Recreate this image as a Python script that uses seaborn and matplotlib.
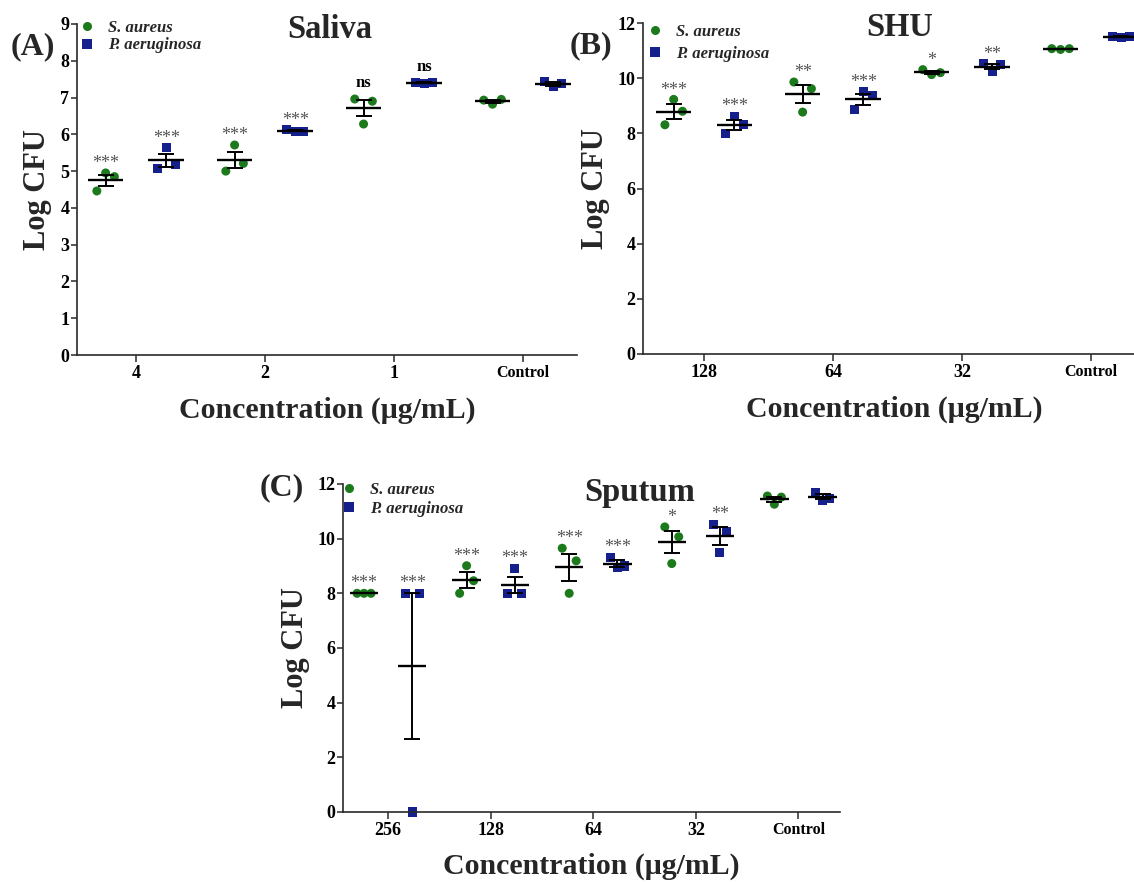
import numpy as np
import pandas as pd
import matplotlib
matplotlib.use("Agg")
import matplotlib.pyplot as plt
import seaborn as sns
from matplotlib.lines import Line2D

# ---------------- data ----------------
species = ["S. aureus", "P. aeruginosa"]

saliva_conc = ["4", "2", "1", "Control"]
saliva_sa = [[4.46, 4.95, 4.85], [5.00, 5.71, 5.21], [6.96, 6.28, 6.90], [6.93, 6.82, 6.95]]
saliva_pa = [[5.07, 5.64, 5.18], [6.12, 6.08, 6.08], [7.41, 7.38, 7.41], [7.45, 7.29, 7.38]]
saliva_sa_sig = ["***", "***", "ns", ""]
saliva_pa_sig = ["***", "***", "ns", ""]

shu_conc = ["128", "64", "32", "Control"]
shu_sa = [[8.31, 9.23, 8.80], [9.86, 8.77, 9.62], [10.31, 10.13, 10.20], [11.07, 11.04, 11.07]]
shu_pa = [[8.00, 8.62, 8.31], [8.85, 9.50, 9.38], [10.53, 10.23, 10.50], [11.52, 11.48, 11.50]]
shu_sa_sig = ["***", "**", "*", ""]
shu_pa_sig = ["***", "***", "**", ""]

sputum_conc = ["256", "128", "64", "32", "Control"]
sputum_sa = [[8.00, 8.00, 8.00], [8.00, 9.01, 8.46], [9.65, 8.00, 9.19], [10.43, 9.09, 10.07], [11.56, 11.26, 11.52]]
sputum_pa = [[8.00, 0.00, 8.00], [8.00, 8.92, 8.00], [9.32, 8.93, 9.00], [10.53, 9.49, 10.28], [11.70, 11.40, 11.48]]
sputum_sa_sig = ["***", "***", "***", "*", ""]
sputum_pa_sig = ["***", "***", "***", "**", ""]

# ---------------- style ----------------
sns.set_theme(style="ticks")
plt.rcParams["font.family"] = ["Liberation Serif", "DejaVu Serif"]
plt.rcParams["font.weight"] = "bold"
plt.rcParams["axes.labelweight"] = "bold"
plt.rcParams["mathtext.default"] = "regular"

GREEN = "#1c7a1c"
BLUE = "#15208c"
AXC = "#2a2a2a"
palette = {species[0]: GREEN, species[1]: BLUE}
markers = {species[0]: "o", species[1]: "s"}

W, H = 1134, 883
fig = plt.figure(figsize=(W / 100, H / 100), dpi=100)


def axes_px(left, top, right, bottom):
    return fig.add_axes([left / W, 1 - bottom / H, (right - left) / W, (bottom - top) / H])


def ftext(x, y, s, **kw):
    fig.text(x / W, 1 - y / H, s, **kw)


HUE_OFF = [-0.235, 0.235]
REP_OFF = [-0.068, 0.0, 0.068]


def draw_panel(ax, conc, sa, pa, sa_sig, pa_sig, ymax, ystep, xlim, leg_xy, leg_space, ylab_x):
    rows = []
    for j, (sp, vals, sigs) in enumerate([(species[0], sa, sa_sig), (species[1], pa, pa_sig)]):
        for i, grp in enumerate(vals):
            for k, v in enumerate(grp):
                rows.append(dict(conc=i, species=sp, rep=k, value=v,
                                 xc=i + HUE_OFF[j], x=i + HUE_OFF[j] + REP_OFF[k], sig=sigs[i]))
    df = pd.DataFrame(rows)

    sns.scatterplot(data=df, x="x", y="value", hue="species", style="species",
                    palette=palette, markers=markers, s=42, linewidth=0,
                    legend=False, ax=ax, zorder=2)
    for c in ax.collections:
        c.set_clip_on(False)

    stats = df.groupby(["species", "conc"], sort=False).agg(
        xc=("xc", "first"), mean=("value", "mean"), sd=("value", "std"),
        n=("value", "count"), top=("value", "max"), sig=("sig", "first")).reset_index()
    stats["sem"] = stats["sd"] / np.sqrt(stats["n"])

    ax.hlines(stats["mean"], stats["xc"] - 0.138, stats["xc"] + 0.138,
              color="black", lw=1.7, zorder=3, clip_on=False)
    ax.errorbar(stats["xc"], stats["mean"], yerr=stats["sem"], fmt="none",
                ecolor="black", elinewidth=1.4, capsize=6, capthick=1.4, zorder=3)

    for _, r in stats.iterrows():
        if not r["sig"]:
            continue
        if r["sig"] == "ns":
            ax.annotate("ns", xy=(r["xc"], r["top"]), xytext=(0, 8.5), textcoords="offset points",
                        ha="center", va="baseline", fontsize=12, fontweight="bold", color="black")
        else:
            ax.annotate(r["sig"], xy=(r["xc"], r["top"]), xytext=(0, 3.5), textcoords="offset points",
                        ha="center", va="baseline", fontsize=13, fontweight="normal", color="#555555")

    ax.set_xlim(*xlim)
    ax.set_ylim(0, ymax)
    ax.set_yticks(np.arange(0, ymax + 0.01, ystep))
    ax.set_yticklabels([f"{int(v)}" for v in np.arange(0, ymax + 0.01, ystep)])
    ax.set_xticks(range(len(conc)))
    ax.set_xticklabels(conc)
    ax.xaxis.get_ticklabels()[-1].set_fontsize(11)
    ax.tick_params(axis="y", length=4.5, width=1.1, pad=1, labelsize=13, colors=AXC, labelcolor="black")
    ax.tick_params(axis="x", length=5, width=1.1, pad=2, labelsize=13, colors=AXC, labelcolor="black")
    ax.xaxis.get_ticklabels()[-1].set_fontsize(11.5)
    for t in ax.get_xticklabels() + ax.get_yticklabels():
        t.set_fontweight("bold")
    sns.despine(ax=ax)
    for s in ["left", "bottom"]:
        ax.spines[s].set_linewidth(1.2)
        ax.spines[s].set_color(AXC)
    ax.set_facecolor("none")

    ax.set_ylabel("Log CFU", fontsize=22, fontweight="bold", va="center")
    ax.yaxis.set_label_coords(ylab_x, 0.5)
    ax.set_xlabel("Concentration (\u03bcg/mL)", fontsize=21.5, fontweight="bold", va="center")
    ax.xaxis.set_label_coords(0.5, -0.166)

    handles = [Line2D([], [], marker=markers[sp], ls="none", color=palette[sp], markersize=6.5,
                      markeredgewidth=0) for sp in species]
    ax.legend(handles, species, prop=dict(style="italic", weight="bold", size=12),
              loc="center left", bbox_to_anchor=(leg_xy[0] / W, 1 - leg_xy[1] / H),
              bbox_transform=fig.transFigure, frameon=False, handlelength=1.0,
              handletextpad=0.8, labelspacing=leg_space, borderpad=0, borderaxespad=0)


axA = axes_px(77, 24, 577, 355)
draw_panel(axA, saliva_conc, saliva_sa, saliva_pa, saliva_sa_sig, saliva_pa_sig,
           9, 1, (-0.457, 3.42), (78.5, 36.5), 0.1, -0.08)

axB = axes_px(643, 23, 1145, 354)
draw_panel(axB, shu_conc, shu_sa, shu_pa, shu_sa_sig, shu_pa_sig,
           12, 2, (-0.473, 3.42), (646.5, 43), 0.35, -0.094)

axC = axes_px(343, 484, 840, 812)
draw_panel(axC, sputum_conc, sputum_sa, sputum_pa, sputum_sa_sig, sputum_pa_sig,
           12, 2, (-0.44, 4.405), (340.5, 499.5), 0.2, -0.095)

# titles and panel letters
ftext(330, 38, "Saliva", ha="center", va="baseline", fontsize=23.5, fontweight="bold")
ftext(900, 36, "SHU", ha="center", va="baseline", fontsize=23.5, fontweight="bold")
ftext(640, 501, "Sputum", ha="center", va="baseline", fontsize=23.5, fontweight="bold")
ftext(11, 54, "(A)", ha="left", va="baseline", fontsize=23, fontweight="bold")
ftext(570, 53, "(B)", ha="left", va="baseline", fontsize=23, fontweight="bold")
ftext(260, 495, "(C)", ha="left", va="baseline", fontsize=23, fontweight="bold")

fig.savefig("out.png", dpi=100, facecolor="white")
